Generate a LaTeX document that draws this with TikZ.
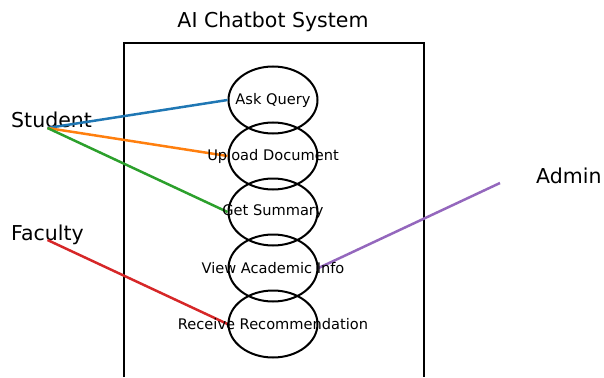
\documentclass[tikz,border=0pt]{standalone}
\usepackage{fontspec}
\setmainfont{DejaVu Sans}
\usetikzlibrary{shapes.geometric}
\definecolor{tabblue}{HTML}{1F77B4}
\definecolor{taborange}{HTML}{FF7F0E}
\definecolor{tabgreen}{HTML}{2CA02C}
\definecolor{tabred}{HTML}{D62728}
\definecolor{tabpurple}{HTML}{9467BD}
\begin{document}
\begin{tikzpicture}[x=1pt,y=-1pt,
		usecase/.style={draw,ellipse,line width=2pt,minimum width=89pt,minimum height=67pt,inner sep=0pt},
		casetext/.style={font=\fontsize{14.6}{17}\selectfont,inner sep=0pt},
		actor/.style={anchor=base west,inner sep=0pt,font=\fontsize{20.5}{24}\selectfont},
		link/.style={line width=2.5pt}]
		\useasboundingbox (0,0) rectangle (604,377);
		%\draw[gray,step=50] (0,0) grid (604,377);
		\node[anchor=base,inner sep=0pt,font=\fontsize{20.5}{24}\selectfont] (title) at (273,28) {AI Chatbot System};
		\draw[line width=2pt] (124,377) -- (124,43) -- (424,43) -- (424,377);
		\node[usecase] (ask) at (273,100) {};
		\node[usecase] (upload) at (273,156) {};
		\node[usecase] (summary) at (273,212) {};
		\node[usecase] (view) at (273,268) {};
		\node[usecase] (receive) at (273,324) {};
		\node[actor] (student) at (11,128) {Student};
		\node[actor] (faculty) at (11,240) {Faculty};
		\node[actor] (admin) at (536,183) {Admin};
		\coordinate (student-pt) at (47.5,128);
		\coordinate (faculty-pt) at (47.5,240);
		\coordinate (admin-pt) at (500,183);
		\draw[link,tabblue] (student-pt) -- (ask.west);
		\draw[link,taborange] (student-pt) -- (upload.west);
		\draw[link,tabgreen] (student-pt) -- (summary.west);
		\draw[link,tabred] (faculty-pt) -- (receive.west);
		\draw[link,tabpurple] (admin-pt) -- (view.east);
		\node[casetext] (ask-text) at (ask) {Ask Query};
		\node[casetext] (upload-text) at (upload) {Upload Document};
		\node[casetext] (summary-text) at (summary) {Get Summary};
		\node[casetext] (view-text) at (view) {View Academic Info};
		\node[casetext] (receive-text) at (receive) {Receive Recommendation};
	\end{tikzpicture}
\end{document}
